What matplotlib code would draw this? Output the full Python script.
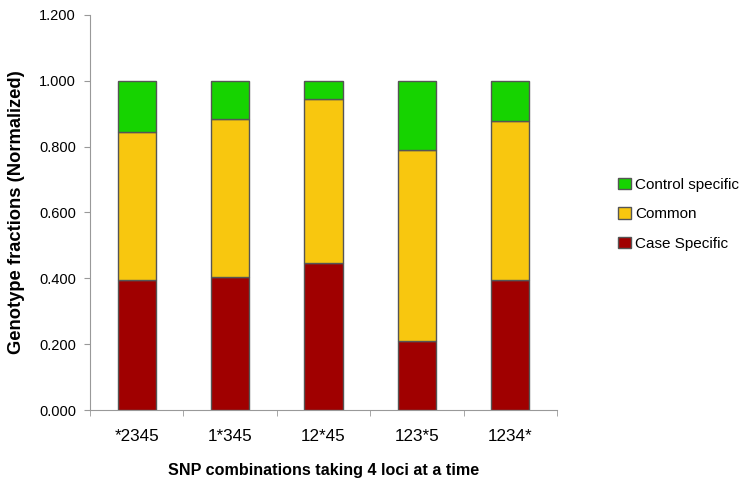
import matplotlib
matplotlib.use("Agg")
import matplotlib.pyplot as plt
import numpy as np
from matplotlib.ticker import FixedLocator, FormatStrFormatter

categories = ["*2345", "1*345", "12*45", "123*5", "1234*"]
case_specific = [0.396, 0.405, 0.447, 0.210, 0.395]
common = [0.450, 0.478, 0.497, 0.580, 0.484]
control_specific = [1 - a - b for a, b in zip(case_specific, common)]

plt.rcParams['font.family'] = ['Liberation Sans', 'DejaVu Sans']

fig = plt.figure(figsize=(7.53, 4.88), dpi=100)
ax = fig.add_axes([0.1195, 0.1598, 0.6202, 0.8095])

x = np.arange(len(categories))
w = 0.41
ec = "#555555"
b1 = ax.bar(x, case_specific, w, color="#A00000", edgecolor=ec, linewidth=1, label="Case Specific")
b2 = ax.bar(x, common, w, bottom=case_specific, color="#F8C70F", edgecolor=ec, linewidth=1, label="Common")
bottom2 = [a + b for a, b in zip(case_specific, common)]
b3 = ax.bar(x, control_specific, w, bottom=bottom2, color="#16D300", edgecolor=ec, linewidth=1, label="Control specific")

ax.set_xlim(-0.5, len(categories) - 0.5)
ax.set_ylim(0, 1.2)
ax.set_yticks(np.arange(0, 1.201, 0.2))
ax.yaxis.set_major_formatter(FormatStrFormatter("%.3f"))
ax.set_xticks(x)
ax.set_xticklabels(categories)
ax.xaxis.set_minor_locator(FixedLocator(np.arange(-0.5, len(categories), 1.0)))
ax.tick_params(axis='x', which='major', length=0, pad=14, labelsize=12.3)
ax.tick_params(axis='x', which='minor', length=4, color="#999999", direction='out')
ax.tick_params(axis='y', length=4, color="#999999", labelsize=10.5, pad=6)

for s in ["top", "right"]:
    ax.spines[s].set_visible(False)
for s in ["left", "bottom"]:
    ax.spines[s].set_color("#999999")

ax.set_ylabel("Genotype fractions (Normalized)", fontsize=13.2, fontweight="bold", labelpad=10)
ax.set_xlabel("SNP combinations taking 4 loci at a time", fontsize=11.6, fontweight="bold", labelpad=13)

handles = [b3, b2, b1]
labels = ["Control specific", "Common", "Case Specific"]
fig.legend(handles, labels, loc="center left", bbox_to_anchor=(0.811, 0.561), frameon=False,
           borderpad=0, fontsize=11, handlelength=0.8, handleheight=0.8, handletextpad=0.3,
           labelspacing=1.0)

fig.savefig("out.png", dpi=100)
